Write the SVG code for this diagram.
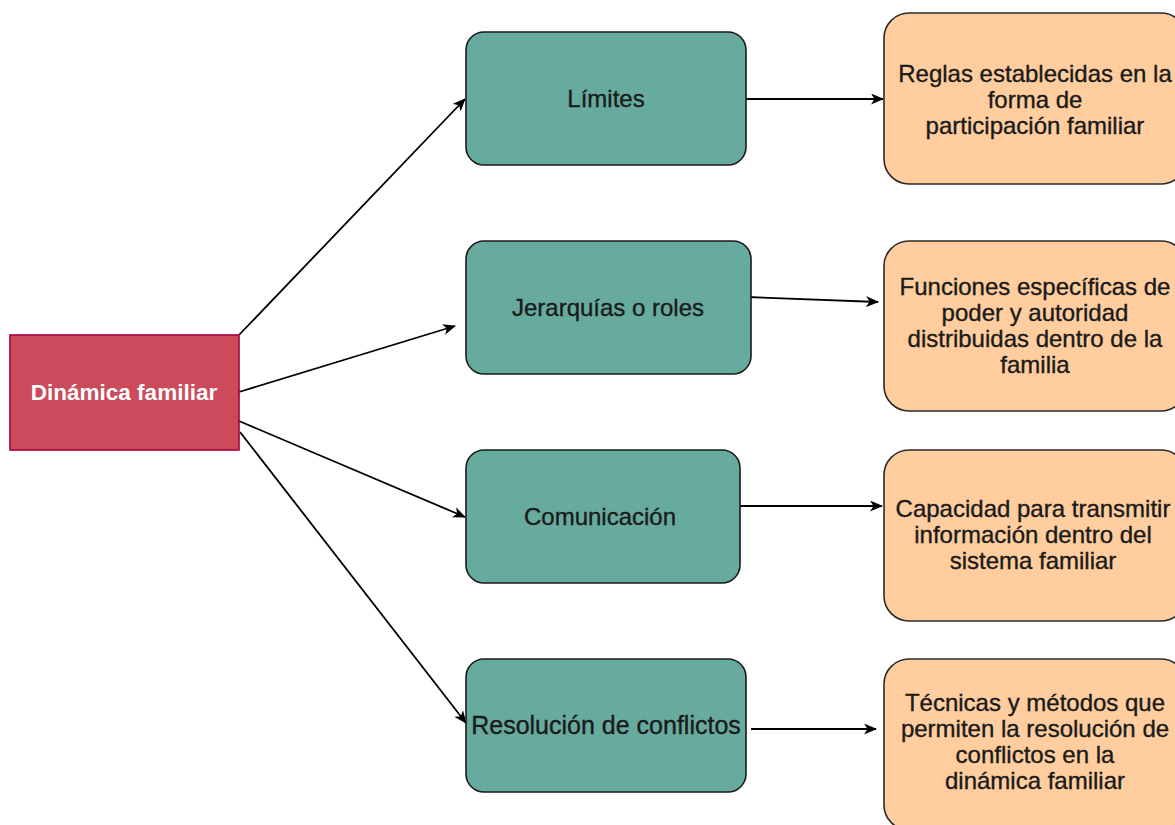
<svg xmlns="http://www.w3.org/2000/svg" width="1175" height="825" viewBox="0 0 1175 825">
<defs>
<style>
.t{font-family:"Liberation Sans",Arial,sans-serif;font-size:24px;fill:#1a1a1a;stroke:#1a1a1a;stroke-width:0.35;text-anchor:middle}
.tw{font-family:"Liberation Sans",Arial,sans-serif;font-size:22.5px;font-weight:bold;fill:#ffffff;text-anchor:middle}
.g{fill:#67AB9F;stroke:#1a1a1a;stroke-width:1.6}
.o{fill:#FFCD9E;stroke:#2a2a2a;stroke-width:1.6}
.c{fill:none;stroke:#000;stroke-width:1.8;marker-end:url(#ah)}
</style>
<marker id="ah" viewBox="0 0 13 11" refX="12" refY="5.5" markerWidth="13" markerHeight="11" markerUnits="userSpaceOnUse" orient="auto">
<path d="M0,0 L13,5.5 L0,11 L3.5,5.5 Z" fill="#000"/>
</marker>
</defs>
<rect width="1175" height="825" fill="#fff"/>
<g id="connectors">
<line class="c" x1="239" y1="335" x2="465" y2="99"/>
<line class="c" x1="239" y1="392" x2="455" y2="326"/>
<line class="c" x1="239" y1="421" x2="465" y2="517"/>
<line class="c" x1="240" y1="432" x2="466" y2="723"/>
<line class="c" x1="746" y1="99" x2="883" y2="99"/>
<line class="c" x1="746" y1="297" x2="878" y2="302"/>
<line class="c" x1="740" y1="506" x2="882" y2="506"/>
<line class="c" x1="751" y1="729" x2="876" y2="729"/>
</g>
<g id="n-dinamica">
<rect x="10" y="335" width="229" height="115" fill="#CB4A5B" stroke="#A7003D" stroke-width="1.6"/>
<text class="tw" x="124" y="400">Dinámica familiar</text>
</g>
<g id="n-limites">
<rect class="g" x="466" y="32" width="280" height="133" rx="18"/>
<text class="t" x="606" y="107">Límites</text>
</g>
<g id="n-jerarquias">
<rect class="g" x="466" y="241" width="285" height="133" rx="18"/>
<text class="t" x="608" y="316">Jerarquías o roles</text>
</g>
<g id="n-comunicacion">
<rect class="g" x="466" y="450" width="274" height="133" rx="18"/>
<text class="t" x="600" y="525">Comunicación</text>
</g>
<g id="n-resolucion">
<rect class="g" x="466" y="659" width="280" height="133" rx="18"/>
<text class="t" x="606" y="734" style="font-size:25px">Resolución de conflictos</text>
</g>
<g id="n-reglas">
<rect class="o" x="884" y="13" width="302" height="171" rx="25"/>
<text class="t" x="1035" y="82">Reglas establecidas en la</text>
<text class="t" x="1035" y="108">forma de</text>
<text class="t" x="1035" y="134">participación familiar</text>
</g>
<g id="n-funciones">
<rect class="o" x="884" y="241" width="302" height="170" rx="25"/>
<text class="t" x="1035" y="295">Funciones específicas de</text>
<text class="t" x="1035" y="321">poder y autoridad</text>
<text class="t" x="1035" y="347">distribuidas dentro de la</text>
<text class="t" x="1035" y="373">familia</text>
</g>
<g id="n-capacidad">
<rect class="o" x="884" y="450" width="302" height="171" rx="25"/>
<text class="t" x="1033" y="517">Capacidad para transmitir</text>
<text class="t" x="1033" y="543">información dentro del</text>
<text class="t" x="1033" y="569">sistema familiar</text>
</g>
<g id="n-tecnicas">
<rect class="o" x="884" y="659" width="302" height="171" rx="25"/>
<text class="t" x="1035" y="711">Técnicas y métodos que</text>
<text class="t" x="1035" y="737">permiten la resolución de</text>
<text class="t" x="1035" y="763">conflictos en la</text>
<text class="t" x="1035" y="789">dinámica familiar</text>
</g>
</svg>
